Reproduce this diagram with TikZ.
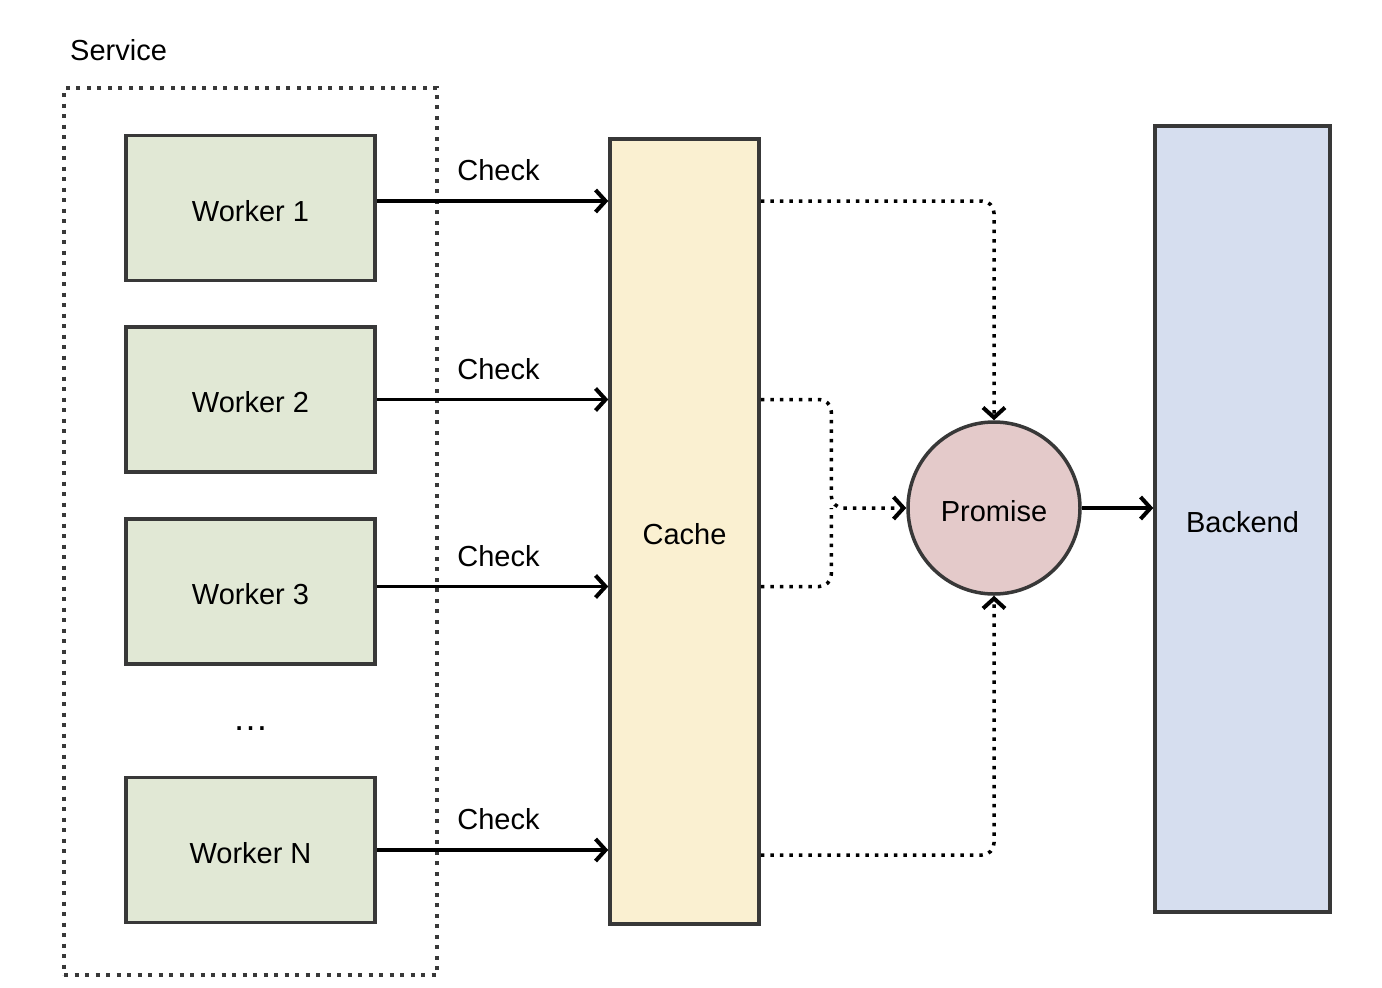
\documentclass[tikz,border=0pt]{standalone}
\usepackage{fontspec}
\setmainfont{Liberation Sans}
\usetikzlibrary{calc}
\usetikzlibrary{positioning}
\usetikzlibrary{arrows.meta}
\definecolor{workerfill}{HTML}{E1E8D5}
\definecolor{cachefill}{HTML}{FAF0D1}
\definecolor{promisefill}{HTML}{E4CACA}
\definecolor{backendfill}{HTML}{D6DEEF}
\definecolor{edgegray}{HTML}{383838}
\tikzstyle{boxtext} = [text height=26pt, text depth=0pt]
\tikzstyle{workernode} = [draw=edgegray, line width=3.5pt, fill=workerfill, rectangle, boxtext, minimum width=249pt, minimum height=145pt]
\tikzstyle{cachenode} = [draw=edgegray, line width=3.5pt, fill=cachefill, rectangle, boxtext, minimum width=149pt, minimum height=785pt]
\tikzstyle{backendnode} = [draw=edgegray, line width=3.5pt, fill=backendfill, rectangle, boxtext, minimum width=175pt, minimum height=786pt]
\tikzstyle{promisenode} = [draw=edgegray, line width=3.5pt, fill=promisefill, circle, boxtext, minimum size=172pt, inner sep=0pt]
\tikzstyle{servicebox} = [draw=edgegray, line width=3.5pt, dash pattern=on 4pt off 6.5pt, rectangle, minimum width=373pt, minimum height=887pt]
\tikzstyle{checkarrow} = [line width=3.5pt, -{Straight Barb[length=10pt,width=22pt,line width=4pt]}]
\tikzstyle{waitline} = [line width=3.5pt, dash pattern=on 3.5pt off 6pt, rounded corners=12pt]
\tikzstyle{waitarrow} = [waitline, -{Straight Barb[length=10pt,width=22pt,line width=4pt]}]
\tikzstyle{checklabel} = [above=15pt, xshift=6pt]

\begin{document}
\begin{tikzpicture}[x=1pt, y=-1pt, font=\fontsize{29}{35}\selectfont]
\useasboundingbox (0,0) rectangle (1382,988);
\node[servicebox] (service) at (250.5,531.5) {};
\node[anchor=base west, inner sep=0pt] (servicelabel) at (70,60) {Service};

\node[workernode] (w1) at (250.5,208) {Worker 1};
\node[workernode] (w2) at ($(w1)+(0,191.5)$) {Worker 2};
\node[workernode] (w3) at ($(w2)+(0,192)$) {Worker 3};
\node[workernode] (wn) at ($(w3)+(0,258.5)$) {Worker N};
\node[font=\fontsize{36}{40}\selectfont] (dots) at ($(w3)!0.5!(wn)+(0,8)$) {\dots};

\node[cachenode] (cache) at (684.5,531.5) {Cache};
\node[promisenode] (promise) at (994,508) {Promise};
\node[backendnode] (backend) at (1242.5,519) {Backend};

% worker -> cache
\coordinate (out1) at ([yshift=7pt]w1.east);
\coordinate (out2) at (w2.east);
\coordinate (out3) at ([yshift=5pt]w3.east);
\coordinate (outn) at (wn.east);
\coordinate (tapn) at ([yshift=-5pt]wn.east);
\draw[checkarrow] (out1) -- (out1 -| cache.west) node[checklabel, midway] {Check};
\draw[checkarrow] (out2) -- (out2 -| cache.west) node[checklabel, midway] {Check};
\draw[checkarrow] (out3) -- (out3 -| cache.west) node[checklabel, midway] {Check};
\draw[checkarrow] (outn) -- (outn -| cache.west) node[checklabel, midway] {Check};

% cache -> promise
\draw[waitarrow] (out1 -| cache.east) -| (promise.north);
\draw[waitarrow] (out2 -| cache.east) -| ($(promise.west)+(-75,0)$) -- (promise.west);
\draw[waitline] (out3 -| cache.east) -| ($(promise.west)+(-75,0)$);
\draw[waitarrow] (tapn -| cache.east) -| (promise.south);

% promise -> backend
\draw[checkarrow] (promise.east) -- (promise.east -| backend.west);
\end{tikzpicture}
\end{document}
